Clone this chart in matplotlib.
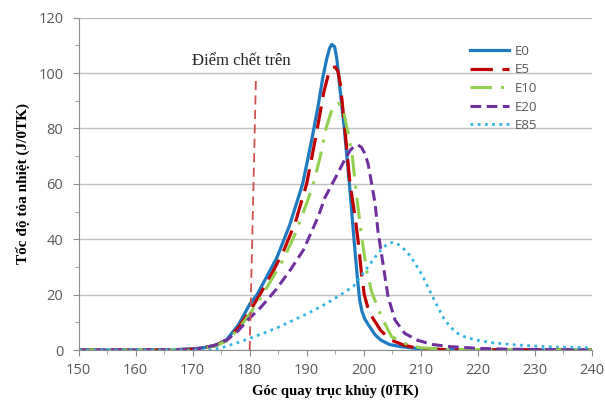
import matplotlib
matplotlib.use("Agg")
import matplotlib.pyplot as plt
from matplotlib.ticker import MultipleLocator

# crank angle / heat release readings for each fuel blend
x_e0 = [150, 165, 170, 172, 174, 176, 178, 180, 181.3, 183, 184.8, 187, 189.3, 190.9, 192, 192.8, 193.5, 194,
        194.4, 194.9, 195.3, 195.7, 196.6, 197.5, 198.3, 198.9, 199.3, 199.7, 200.2, 200.8, 202, 203, 204.5,
        206.5, 210, 215, 240]
y_e0 = [0, 0, 0.4, 0.9, 1.7, 3.8, 9, 16.5, 20, 26.5, 33.5, 45, 60, 76, 88, 98, 105, 108.8,
        110.3, 109.5, 105, 97, 80, 60, 40, 26, 18, 14, 11.2, 9.2, 5.5, 3.6, 2,
        1.2, 0.4, 0.1, 0]

x_e5 = [150, 165, 170, 172, 174, 176, 178, 180, 181.8, 184, 186, 188, 190, 191.7, 193, 193.8, 194.4, 195,
        195.5, 195.9, 196.7, 197.6, 198.5, 199.1, 199.6, 200.1, 200.7, 201.3, 203, 204.8, 207, 209, 212, 215, 240]
y_e5 = [0, 0, 0.3, 0.8, 1.6, 3.5, 8, 14, 20, 28, 36, 46, 60, 78, 93, 99.5, 101.8, 102.2,
        100.5, 96, 80, 60, 48, 38, 28, 20, 15.5, 12.5, 7, 3.6, 1.8, 0.8, 0.3, 0.1, 0]

x_e10 = [150, 165, 170, 172, 174, 176, 178, 180, 182, 184, 186, 188, 190, 191.2, 192.4, 193.4, 194.3, 195,
         195.6, 196.1, 196.6, 197.2, 198, 198.8, 199.7, 200.6, 201.4, 203.1, 204.9, 207.8, 210, 215, 240]
y_e10 = [0, 0, 0.3, 0.7, 1.5, 3.3, 7.5, 13, 19, 26, 33, 42, 53, 60, 70, 80, 86, 88.5,
         89, 88, 85, 79, 70, 55, 40, 28, 21, 12, 4.8, 1.8, 0.8, 0.2, 0]

x_e20 = [150, 165, 170, 172, 174, 176, 178, 180, 182, 184.5, 187, 189.4, 192, 193.2, 195, 196.5, 197.6, 198.4,
         199, 199.6, 200.2, 200.8, 201.4, 202, 202.5, 203.4, 204.3, 205.5, 207.2, 209.5, 212, 215.3, 220, 225, 240]
y_e20 = [0, 0, 0.2, 0.8, 1.8, 3.6, 7, 11.5, 15.5, 21.5, 28.5, 36, 48, 55, 62, 68, 72, 73.7,
         74, 73.2, 71, 67, 60, 53, 43, 31, 19, 10.8, 6, 3.5, 2, 1.2, 0.6, 0.3, 0]

x_e85 = [150, 170, 173, 175, 178, 180, 183, 185, 187.7, 190, 193.5, 196, 198.2, 200, 202, 203.3, 204.2, 205,
         205.8, 206.8, 208.3, 210.4, 212.1, 214.2, 215.5, 216.5, 218, 220, 223, 227, 232, 240]
y_e85 = [0, 0, 0, 0.8, 2.7, 4.2, 6.5, 8.2, 10.8, 13, 16.8, 20, 23, 28, 33.5, 36.8, 38.3, 38.8,
         38.5, 37, 33.7, 26.5, 19.2, 10.8, 7.8, 6, 4.5, 3.5, 2.5, 1.8, 1.2, 0.8]

# top dead centre marker
tdc_x = [180, 181.1]
tdc_y = [0, 98]

fig = plt.figure(figsize=(6.05, 4.0), dpi=100)
ax = fig.add_axes([0.13, 0.125, 0.848, 0.831])

ax.plot(x_e0, y_e0, color="#1F7BC1", lw=2.3, label="E0")
ax.plot(x_e5, y_e5, color="#C00000", lw=2.3, dashes=(7, 3), label="E5")
ax.plot(x_e10, y_e10, color="#92D050", lw=2.2, dashes=(7, 3, 1, 3), label="E10")
ax.plot(x_e20, y_e20, color="#7030A0", lw=2.2, dashes=(3.5, 1.8), label="E20")
ax.plot(x_e85, y_e85, color="#33B5E0", lw=2.0, linestyle=(0, (1, 1.6)), label="E85")
ax.plot(tdc_x, tdc_y, color="#D0504D", lw=1.3, dashes=(5, 3))

ax.text(178.6, 104.4, "Điểm chết trên", fontsize=12, family="Liberation Serif",
        ha="center", va="center", color="#222222")

ax.set_xlim(150, 240)
ax.set_ylim(0, 120)
ax.xaxis.set_major_locator(MultipleLocator(10))
ax.xaxis.set_minor_locator(MultipleLocator(5))
ax.yaxis.set_major_locator(MultipleLocator(20))
ax.yaxis.set_minor_locator(MultipleLocator(10))
ax.grid(axis="y", which="major", color="#C0C0C0", lw=1)
ax.set_axisbelow(True)

for s in ["top", "right"]:
    ax.spines[s].set_visible(False)
for s in ["left", "bottom"]:
    ax.spines[s].set_color("#8C8C8C")
ax.tick_params(which="both", direction="out", colors="#8C8C8C", labelcolor="#595959")
ax.tick_params(which="major", length=4, labelsize=10.5)
ax.tick_params(axis="y", which="major", pad=7)
ax.tick_params(axis="x", which="major", pad=5)
ax.tick_params(which="minor", length=3)
for lab in ax.get_xticklabels() + ax.get_yticklabels():
    lab.set_family("Open Sans")

ax.set_xlabel("Góc quay trục khủy (0TK)", fontsize=10.5, family="Liberation Serif",
              fontweight="bold", labelpad=5)
ax.set_ylabel("Tốc độ tỏa nhiệt (J/0TK)", fontsize=11, family="Liberation Serif",
              fontweight="bold", labelpad=6)

leg = ax.legend(loc="upper left", bbox_to_anchor=(458 / 605, 1 - 33 / 400),
                bbox_transform=fig.transFigure, frameon=False, fontsize=9.5,
                handlelength=3.0, labelspacing=0.42, handletextpad=0.4)
for t in leg.get_texts():
    t.set_color("#595959")
    t.set_family("Open Sans")

fig.savefig("out.png", dpi=100)
